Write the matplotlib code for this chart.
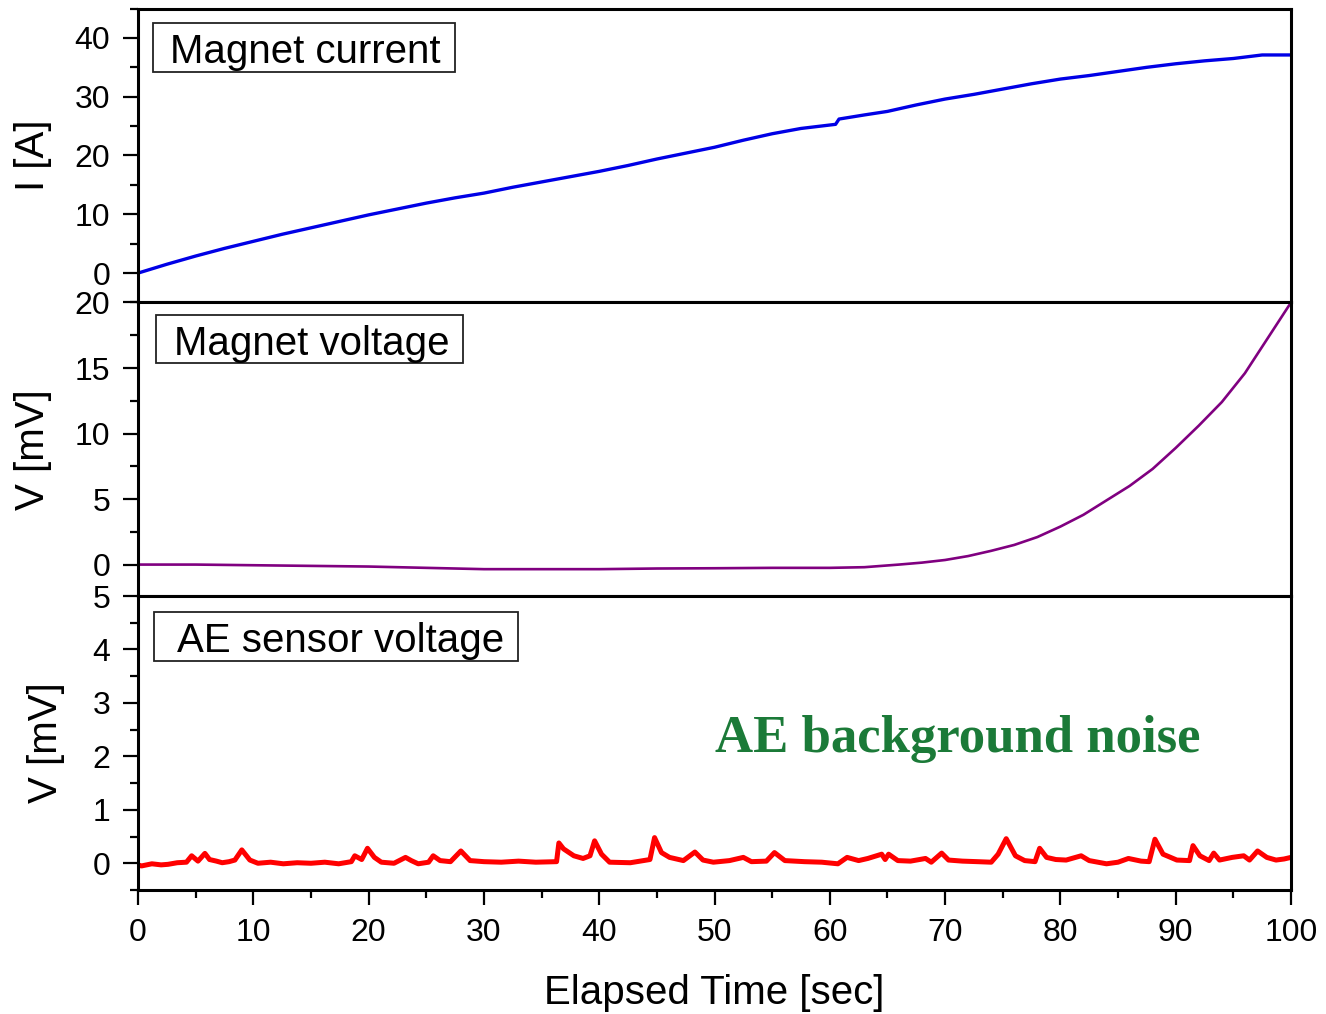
import matplotlib
matplotlib.use("Agg")
import matplotlib.pyplot as plt
from matplotlib.patches import Rectangle
from matplotlib.ticker import MultipleLocator

plt.rcParams['font.family'] = ['Liberation Sans', 'DejaVu Sans']

# magnet current [A]
t_cur = [0, 2.5, 5, 7.5, 10, 12.5, 15, 17.5, 20, 22.5, 25, 27.5, 30, 32.5, 35, 37.5,
         40, 42.5, 45, 47.5, 50, 52.5, 55, 57.5, 60.5, 60.8, 63, 65, 67.5, 70, 72.5,
         75, 77.5, 80, 82.5, 85, 87.5, 90, 92.5, 95, 97.5, 100]
i_cur = [0.0, 1.5, 2.9, 4.2, 5.4, 6.6, 7.7, 8.8, 9.9, 10.9, 11.9, 12.8, 13.6, 14.6, 15.5, 16.4,
         17.3, 18.3, 19.4, 20.4, 21.4, 22.6, 23.7, 24.6, 25.3, 26.2, 26.9, 27.5, 28.6, 29.6, 30.4,
         31.3, 32.2, 33.0, 33.6, 34.3, 35.0, 35.6, 36.1, 36.5, 37.1, 37.1]

# magnet voltage [mV]
t_mag = [0, 5, 10, 15, 20, 25, 30, 35, 40, 45, 50, 55, 60, 63, 66, 68, 70, 72, 74,
         76, 78, 80, 82, 84, 86, 88, 90, 92, 94, 96, 98, 100]
v_mag = [0.0, 0.0, -0.05, -0.1, -0.15, -0.25, -0.35, -0.35, -0.35, -0.3, -0.28, -0.25,
         -0.25, -0.2, 0.0, 0.15, 0.35, 0.65, 1.05, 1.5, 2.1, 2.9, 3.8, 4.9, 6.0, 7.3,
         8.9, 10.6, 12.4, 14.6, 17.3, 20.0]

# AE sensor voltage [mV]
t_ae = [0, 0.3, 1.2, 2.0, 2.6, 3.4, 4.2, 4.65, 5.2, 5.8, 6.2, 6.8, 7.3, 7.9, 8.4, 9.0, 9.7,
        10.4, 11.5, 12.6, 13.8, 15.0, 16.2, 17.4, 18.5, 18.8, 19.4, 19.9, 20.5, 21.1, 22.2,
        23.2, 23.7, 24.3, 25.2, 25.6, 26.2, 27.1, 28.0, 28.8, 30.0, 31.5, 33.0, 34.5, 36.3,
        36.5, 36.9, 37.8, 38.6, 39.2, 39.6, 40.2, 40.9, 42.7, 44.4, 44.8, 45.4, 46.1, 47.3,
        48.3, 49.0, 49.9, 51.3, 52.5, 53.2, 54.5, 55.2, 56.1, 57.8, 59.3, 60.7, 61.5, 62.5,
        63.3, 64.5, 64.8, 65.1, 65.9, 67.0, 68.3, 68.8, 69.7, 70.3, 71.5, 72.8, 74.0, 74.6,
        75.3, 76.1, 76.9, 77.8, 78.2, 78.8, 79.6, 80.5, 81.8, 82.5, 84.0, 85.0, 85.9, 87.0,
        87.7, 88.2, 88.9, 90.1, 91.2, 91.5, 92.1, 92.9, 93.3, 93.8, 94.9, 95.9, 96.4, 97.1,
        97.9, 98.7, 99.4, 100]
v_ae = [-0.03, -0.05, -0.01, -0.03, -0.02, 0.01, 0.02, 0.14, 0.04, 0.185, 0.07, 0.04, 0.01, 0.03, 0.06, 0.25, 0.06,
        0.0, 0.02, -0.01, 0.01, 0.0, 0.02, -0.01, 0.03, 0.14, 0.07, 0.28, 0.11, 0.02, 0.0,
        0.11, 0.05, -0.01, 0.02, 0.14, 0.05, 0.03, 0.23, 0.05, 0.03, 0.02, 0.04, 0.02, 0.03,
        0.38, 0.27, 0.14, 0.09, 0.14, 0.42, 0.17, 0.02, 0.01, 0.07, 0.48, 0.2, 0.11, 0.05,
        0.21, 0.06, 0.02, 0.05, 0.11, 0.03, 0.04, 0.2, 0.05, 0.03, 0.02, -0.01, 0.11, 0.05,
        0.09, 0.17, 0.07, 0.17, 0.05, 0.04, 0.09, 0.02, 0.19, 0.06, 0.04, 0.03, 0.02, 0.17,
        0.46, 0.14, 0.05, 0.03, 0.28, 0.11, 0.07, 0.06, 0.14, 0.05, -0.01, 0.02, 0.09, 0.04,
        0.03, 0.45, 0.17, 0.06, 0.05, 0.33, 0.14, 0.05, 0.19, 0.06, 0.11, 0.14, 0.06, 0.23,
        0.11, 0.06, 0.08, 0.11]

fig = plt.figure(figsize=(13.26, 10.14), dpi=100)
left, width = 0.1041, 0.8695
ax1 = fig.add_axes([left, 0.7017, width, 0.2899])
ax2 = fig.add_axes([left, 0.4122, width, 0.2895])
ax3 = fig.add_axes([left, 0.1223, width, 0.2899])

ax1.plot(t_cur, i_cur, color='#0000e6', lw=2.4)
ax2.plot(t_mag, v_mag, color='#800080', lw=1.9)
ax3.plot(t_ae, v_ae, color='#ff0000', lw=3.6)

ax1.set_ylim(-5, 45)
ax1.yaxis.set_major_locator(MultipleLocator(10))
ax1.yaxis.set_minor_locator(MultipleLocator(5))
ax2.set_ylim(-2.4, 20)
ax2.yaxis.set_major_locator(MultipleLocator(5))
ax2.yaxis.set_minor_locator(MultipleLocator(2.5))
ax3.set_ylim(-0.5, 5)
ax3.yaxis.set_major_locator(MultipleLocator(1))
ax3.yaxis.set_minor_locator(MultipleLocator(0.5))

ax1.set_ylabel('I [A]', fontsize=29, labelpad=16)
ax2.set_ylabel('V [mV]', fontsize=29, labelpad=16)
ax3.set_ylabel('V [mV]', fontsize=29, labelpad=20)
ax3.set_xlabel('Elapsed Time [sec]', fontsize=29, labelpad=19)

for ax in (ax1, ax2, ax3):
    ax.set_xlim(0, 100)
    ax.xaxis.set_major_locator(MultipleLocator(10))
    ax.xaxis.set_minor_locator(MultipleLocator(5))
    for s in ax.spines.values():
        s.set_linewidth(2.2)
    ax.tick_params(which='major', direction='out', length=11, width=1.6,
                   labelsize=23, pad=9, right=False, top=False)
    ax.tick_params(which='minor', direction='out', length=6, width=1.6,
                   right=False, top=False)

for ax in (ax1, ax2):
    ax.tick_params(axis='x', which='both', bottom=False, labelbottom=False)

# labelled boxes
boxes = [(ax1, 'Magnet current', (0.013, 0.784, 0.262, 0.167), (0.028, 0.815)),
         (ax2, 'Magnet voltage', (0.0156, 0.794, 0.266, 0.163), (0.031, 0.821)),
         (ax3, 'AE sensor voltage', (0.0139, 0.779, 0.316, 0.167), (0.034, 0.811))]
for ax, label, (bx, by, bw, bh), (tx, ty) in boxes:
    ax.add_patch(Rectangle((bx, by), bw, bh, transform=ax.transAxes,
                           fill=False, edgecolor='#222222', lw=1.3))
    ax.text(tx, ty, label, transform=ax.transAxes, fontsize=29,
            ha='left', va='baseline')

ax3.text(50, 2.09, 'AE background noise', fontsize=38, fontweight='bold',
         family='Liberation Serif', color='#1b7a38', ha='left', va='baseline')

fig.savefig('out.png', dpi=100)
